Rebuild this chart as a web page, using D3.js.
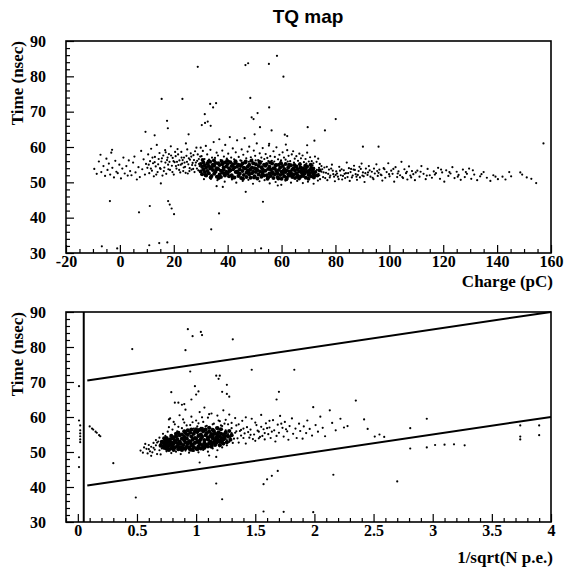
<!DOCTYPE html>
<html>
<head>
<meta charset="utf-8">
<script src="https://cdn.jsdelivr.net/npm/d3@7"></script>
<style>
  body { margin: 0; background: #fff; }
  svg { display: block; }
  .tick text { font-family: "Liberation Serif", "Times New Roman", serif; font-weight: bold; font-size: 16px; fill: #000; }
  .tick line { stroke: #000; stroke-width: 1.2; }
  .axis-title { font-family: "Liberation Serif", "Times New Roman", serif; font-weight: bold; font-size: 17px; }
  .title { font-family: "Liberation Sans", Arial, sans-serif; font-weight: bold; font-size: 19px; }
</style>
</head>
<body>
<div id="chart"></div>
<script>
const width = 565, height = 571

// tick labels
const chargeTicks = [-20, 0, 20, 40, 60, 80, 100, 120, 140, 160]
const timeTicks = [30, 40, 50, 60, 70, 80, 90]
const npeTicks = [0, 0.5, 1, 1.5, 2, 2.5, 3, 3.5, 4]

// ---- top panel: Time (nsec) vs Charge (pC) ----
const topLowCharge = [[-9.5,53.8],[-8.6,52.4],[-7.8,55.9],[-7.2,57.8],[-6.9,52.9],[-6.1,54.6],[-5.5,51.8],[-5.0,56.7],[-4.6,53.5],[-4.1,55.3],[-3.6,52.2],[-3.2,58.4],[-2.9,59.2],[-2.8,54.1],[-2.2,51.4],[-1.7,56.1],[-1.3,53.0],[-0.8,52.6],[-0.2,55.0],[0.4,51.1],[0.9,53.9],[1.3,57.0],[1.8,52.5],[2.4,54.6],[2.9,51.9],[3.3,56.2],[3.8,53.2],[4.3,52.0],[4.9,55.6],[5.4,57.3],[5.8,52.8],[6.3,50.8],[6.9,54.3],[7.4,51.5],[7.9,58.9],[8.3,53.7],[8.8,56.5],[9.3,52.2],[9.7,55.2]]

const topRising = [[10.2,54.1],[10.5,57.9],[10.9,52.6],[11.2,56.0],[11.6,59.5],[11.9,53.3],[12.3,55.4],[12.6,51.7],[13.0,57.2],[13.3,54.5],[13.7,60.6],[14.0,52.9],[14.4,56.6],[14.7,58.3],[15.1,53.8],[15.4,55.9],[15.8,51.9],[16.1,57.6],[16.5,54.2],[16.8,59.1],[17.2,52.4],[17.5,56.3],[17.9,55.0],[18.2,58.0],[18.6,53.5],[18.9,60.2],[19.3,54.7],[19.6,56.9],[20.0,52.2],[20.3,55.7],[20.7,57.4],[21.0,53.9],[21.4,59.4],[21.7,54.9],[22.1,56.2],[22.4,52.8],[22.8,58.6],[23.1,55.3],[23.5,53.2],[23.8,57.0],[24.2,54.4],[24.5,61.0],[24.9,55.8],[25.2,52.5],[25.6,56.8],[25.9,54.0],[26.3,58.2],[26.6,53.6],[27.0,55.5],[27.3,57.7],[27.7,52.9],[28.0,54.8],[28.4,59.8],[28.7,56.1],[29.1,53.4],[29.4,55.2],[29.8,57.3],[14.2,55.1],[15.6,56.8],[16.9,55.6],[17.7,57.0],[18.4,55.8],[19.0,57.6],[19.9,56.0],[20.8,54.6],[21.6,57.9],[22.6,55.0],[23.3,56.3],[24.0,55.6],[24.7,57.5],[25.4,55.1],[26.0,56.4],[26.8,54.9],[27.5,56.3],[28.2,55.6],[28.9,57.9],[29.6,54.6],[10.7,55.0],[11.5,53.9],[12.1,57.0],[12.9,55.7],[13.5,52.2],[14.9,54.0],[16.3,53.2],[17.0,58.5],[18.0,53.7],[19.5,52.9],[20.5,58.6],[21.2,55.8],[22.0,53.5],[22.9,57.0],[23.7,54.2],[24.4,52.7],[25.0,59.3],[25.8,53.2],[26.5,57.3],[27.2,53.8],[27.9,58.8],[28.6,53.9],[29.3,56.6],[30.0,59.8]]

const topCore = [[30,53.1],[30,55.2],[30.5,54.4],[30.5,52.3],[31,55.6],[31,53.7],[31.5,52.9],[31.5,54.8],[32,54.1],[32,51.9],[32.5,55.3],[32.5,53.2],[33,52.6],[33,54.6],[33.5,53.9],[33.5,55.8],[34,51.8],[34,54.3],[34.5,53.5],[34.5,55.0],[35,52.4],[35,54.7],[35.5,55.5],[35.5,53.0],[36,51.6],[36,54.0],[36.5,53.8],[36.5,55.4],[37,52.2],[37,54.9],[37.5,53.3],[37.5,51.5],[38,55.1],[38,52.8],[38.5,54.2],[38.5,53.6],[39,51.9],[39,55.6],[39.5,53.0],[39.5,54.5],[40,52.5],[40,55.2],[40.5,54.0],[40.5,51.7],[41,53.4],[41,55.7],[41.5,52.0],[41.5,54.6],[42,53.7],[42,55.1],[42.5,51.4],[42.5,54.2],[43,52.9],[43,55.5],[43.5,54.4],[43.5,53.1],[44,51.8],[44,55.0],[44.5,53.6],[44.5,52.4],[45,54.8],[45,51.2],[45.5,53.2],[45.5,55.3],[46,52.1],[46,54.1],[46.5,53.9],[46.5,55.6],[47,51.5],[47,52.7],[47.5,54.5],[47.5,53.4],[48,52.3],[48,55.0],[48.5,53.7],[48.5,51.3],[49,54.2],[49,52.6],[49.5,55.4],[49.5,53.0],[50,51.7],[50,54.0],[50.5,52.9],[50.5,55.1],[51,53.5],[51,51.1],[51.5,54.6],[51.5,52.2],[52,53.1],[52,55.5],[52.5,51.6],[52.5,54.3],[53,52.8],[53,53.7],[53.5,55.0],[53.5,51.9],[54,53.3],[54,54.7],[54.5,52.0],[54.5,55.2],[55,53.8],[55,51.4],[55.5,54.4],[55.5,52.5],[56,51.8],[56,53.6],[56.5,55.3],[56.5,52.9],[57,54.0],[57,51.2],[57.5,52.3],[57.5,53.9],[58,54.9],[58,53.2],[58.5,51.5],[58.5,52.6],[59,53.5],[59,55.0],[59.5,52.1],[59.5,54.2],[60,53.0],[60,51.0],[60.5,54.6],[60.5,52.4],[61,51.7],[61,53.8],[61.5,52.9],[61.5,55.2],[62,53.4],[62,51.3],[62.5,54.3],[62.5,52.2],[63,51.9],[63,53.1],[63.5,52.7],[63.5,54.8],[64,53.6],[64,51.5],[64.5,52.2],[64.5,54.0],[65,51.2],[65,53.3],[65.5,54.5],[65.5,52.5],[66,52.0],[66,53.7],[66.5,53.1],[66.5,51.1],[67,51.6],[67,54.2],[67.5,52.8],[67.5,53.4],[68,54.0],[68,51.8],[68.5,52.4],[68.5,53.0],[69,51.3],[69,53.8],[69.5,52.9],[69.5,54.5],[70,52.1],[70,51.0],[70.5,53.5],[70.5,52.6],[71,51.7],[71,54.1],[71.5,52.9],[71.5,53.3],[72,51.4],[72,52.3],[30.7,56.3],[31.8,52.1],[32.9,55.9],[33.7,51.4],[34.9,56.2],[35.8,53.7],[36.7,51.2],[37.8,56.0],[38.7,52.5],[39.8,56.1],[40.7,53.2],[41.8,51.3],[42.9,56.0],[43.8,52.7],[44.8,54.6],[45.7,51.0],[46.7,55.9],[47.8,53.1],[48.8,56.1],[49.8,51.4],[50.7,53.8],[51.8,55.8],[52.8,52.1],[53.8,54.9],[54.8,51.0],[55.8,55.6],[56.8,52.4],[57.8,54.8],[58.8,51.1],[59.8,55.4],[60.8,53.3],[61.8,50.9],[62.8,55.0],[63.8,52.0],[64.8,54.9],[65.8,51.6],[66.8,55.1],[67.8,52.3],[68.8,54.7],[69.8,53.1],[70.8,55.0],[71.8,53.9],[72.5,52.9],[73.3,51.9],[74.1,53.4]]

const topHalo = [[30.3,57.4],[30.8,58.9],[31.4,56.6],[31.9,60.3],[32.4,57.9],[33.1,56.4],[33.6,59.2],[34.2,57.0],[34.8,61.4],[35.3,56.9],[35.9,58.4],[36.4,57.6],[36.9,62.2],[37.4,56.3],[38.0,59.0],[38.6,57.3],[39.1,60.6],[39.7,56.7],[40.2,58.1],[40.8,62.8],[41.3,57.0],[41.9,59.6],[42.4,56.5],[43.0,58.5],[43.5,61.9],[44.1,57.2],[44.7,56.2],[45.2,59.3],[45.8,57.8],[46.3,62.5],[46.9,56.8],[47.4,58.7],[48.0,60.1],[48.6,57.1],[49.1,56.4],[49.7,59.0],[50.2,57.5],[50.8,61.0],[51.3,56.3],[51.9,58.2],[52.5,57.0],[53.0,59.7],[53.6,56.6],[54.1,58.0],[54.7,56.9],[55.3,60.4],[55.8,57.4],[56.4,56.1],[57.0,58.8],[57.5,57.2],[58.1,59.9],[58.7,56.5],[59.2,57.8],[59.8,56.2],[60.4,58.5],[60.9,57.0],[61.5,56.4],[62.1,59.1],[62.6,57.5],[63.2,56.0],[63.8,57.9],[64.3,58.8],[64.9,56.7],[65.5,57.4],[66.1,56.1],[66.6,58.1],[67.2,56.8],[67.8,57.6],[68.3,55.7],[68.9,56.6],[69.5,58.4],[70.1,55.9],[70.6,57.1],[71.2,56.0],[71.8,55.4],[72.4,57.3],[73.0,55.8],[73.6,56.7],[74.2,55.2],[74.8,54.6],[31.2,50.9],[33.8,51.0],[36.2,50.6],[38.9,50.2],[41.6,50.8],[43.2,49.9],[45.6,50.4],[47.7,50.7],[49.4,49.6],[51.8,50.3],[53.7,50.6],[55.6,49.7],[57.8,50.1],[59.9,49.3],[61.4,50.5],[63.5,49.9],[65.8,50.4],[67.9,49.8],[69.8,50.2],[71.9,49.6],[73.5,50.5],[32.7,55.9],[35.1,56.2],[37.9,55.8],[40.5,56.0],[42.7,55.9],[45.1,56.1],[47.9,55.8],[50.4,56.2],[52.7,55.9],[55.1,56.0],[57.3,55.9],[59.6,55.7],[62.3,55.9],[64.6,55.6],[66.9,55.4],[69.2,55.3],[71.5,54.8],[73.9,54.1]]

const topHighCharge = [[72.6,51.8],[73.1,53.5],[73.7,52.4],[74.3,50.9],[74.8,53.0],[75.4,51.5],[75.9,54.2],[76.5,52.7],[77.0,50.6],[77.6,53.6],[78.1,51.9],[78.7,55.0],[79.2,52.3],[79.8,50.3],[80.3,53.1],[80.9,51.6],[81.4,54.4],[82.0,52.0],[82.5,50.8],[83.1,53.4],[83.6,51.2],[84.2,55.6],[84.7,52.6],[85.3,50.4],[85.8,53.8],[86.4,51.9],[86.9,54.7],[87.5,52.3],[88.0,50.7],[88.6,53.2],[89.1,51.4],[89.7,55.3],[90.2,52.8],[90.8,50.1],[91.3,53.9],[91.9,52.1],[92.4,54.6],[93.0,51.6],[93.5,53.0],[94.1,50.9],[94.6,52.5],[95.2,55.1],[95.7,51.8],[96.3,53.6],[96.8,52.2],[97.4,50.5],[97.9,54.0],[98.5,51.3],[99.0,52.9],[99.6,55.4],[100.1,51.7],[100.7,53.3],[101.2,52.4],[101.8,50.2],[102.3,54.3],[102.9,51.5],[103.4,53.1],[104.0,52.0],[104.5,55.8],[105.1,51.2],[105.6,53.7],[106.2,52.6],[106.7,50.8],[107.3,54.5],[107.8,51.9],[108.4,53.2],[108.9,52.3],[109.5,50.6],[72.9,52.9],[74.0,52.0],[75.1,53.7],[76.2,51.2],[77.3,52.4],[78.4,53.9],[79.5,51.6],[80.6,52.5],[81.7,53.3],[82.8,51.8],[83.9,52.6],[85.0,54.0],[86.1,51.4],[87.2,53.5],[88.3,52.1],[89.4,53.8],[90.5,51.7],[92.1,52.8],[94.3,53.9],[96.0,52.7],[75.6,52.8],[76.8,54.4],[77.9,51.4],[79.0,53.3],[80.1,52.1],[81.2,50.9],[82.3,53.7],[83.4,52.4],[84.5,51.5],[85.6,52.9],[86.7,53.6],[87.8,51.6],[88.9,54.4],[90.0,51.9],[91.1,52.6],[92.7,53.4],[93.8,51.3],[95.5,53.2],[97.1,52.0],[98.2,53.7],[99.9,52.3],[101.5,53.8],[103.1,52.5],[104.8,51.5],[106.5,53.0],[108.1,51.4],[109.8,52.8],[110.4,53.3],[111.2,51.6],[111.6,53.0],[111.9,54.6],[112.7,52.4],[113.5,50.9],[113.9,51.9],[114.2,53.8],[115.0,52.0],[115.8,51.3],[116.5,53.1],[116.9,52.2],[117.3,52.6],[118.1,54.1],[118.8,51.0],[119.2,53.6],[119.6,52.8],[120.4,50.2],[121.1,53.4],[121.9,51.8],[122.3,52.9],[122.7,52.5],[123.4,54.3],[124.2,51.2],[125.0,53.0],[125.4,51.6],[125.7,52.1],[126.5,50.7],[127.3,53.6],[128.0,51.5],[128.4,52.9],[128.8,52.4],[129.6,53.9],[130.4,51.0],[131.0,53.4],[131.5,52.2],[132.6,50.6],[133.7,51.7],[134.2,52.3],[135.0,52.9],[136.2,51.3],[137.5,50.4],[138.6,52.0],[139.4,51.6],[140.3,50.9],[142.0,51.6],[143.1,50.8],[144.5,52.9],[145.2,51.7],[148.6,52.8],[149.3,52.2],[151.0,51.4],[152.7,51.0],[154.5,49.8]]

const topOutliers = [[58.3,85.8],[55.3,83.5],[47.6,83.7],[46.6,83.2],[28.9,82.7],[60.7,79.9],[15.5,73.6],[23.2,73.6],[48.4,73.9],[33.5,72.2],[35.7,72.4],[34.6,71.2],[55.4,71.2],[31.5,69.3],[48.9,68.4],[49.6,67.9],[51.1,69.6],[30.4,66.2],[31.6,66.8],[32.6,67.2],[33.7,66.0],[17.5,67.4],[17.8,65.3],[80.1,67.9],[69.7,65.6],[52.0,65.6],[56.3,64.7],[76.1,64.7],[50.0,63.6],[61.2,63.5],[62.1,63.1],[9.5,64.3],[25.5,63.6],[12.9,63.3],[90.2,60.1],[96.0,60.1],[157.2,61.0],[55.4,60.9],[61.6,60.7],[69.5,60.5],[72.2,61.8],[-3.7,44.7],[7.1,41.5],[11.1,43.3],[17.9,44.7],[18.5,43.7],[19.2,42.6],[20.1,41.0],[36.8,41.2],[33.9,36.7],[53.1,44.5],[46.7,47.3],[35.9,48.9],[38.2,48.7],[58.6,49.1],[15.2,49.7],[-6.7,31.9],[-1.0,31.3],[10.9,32.2],[14.6,32.8],[17.6,33.0],[52.4,31.3]]

// ---- bottom panel: Time (nsec) vs 1/sqrt(N p.e.) ----
const bottomCore = [[0.72,51.6],[0.72,52.8],[0.73,52.3],[0.73,51.2],[0.74,53.1],[0.74,51.9],[0.75,52.5],[0.75,50.9],[0.76,51.4],[0.76,53.4],[0.77,52.9],[0.77,51.8],[0.78,53.6],[0.78,52.2],[0.79,51.1],[0.79,52.7],[0.80,53.9],[0.80,51.7],[0.81,52.4],[0.81,54.2],[0.82,51.3],[0.82,53.2],[0.83,52.8],[0.83,54.5],[0.84,51.6],[0.84,53.7],[0.85,52.2],[0.85,50.8],[0.86,54.8],[0.86,53.0],[0.87,51.4],[0.87,52.5],[0.88,53.8],[0.88,55.0],[0.89,52.0],[0.89,51.1],[0.90,54.3],[0.90,53.3],[0.91,52.7],[0.91,55.4],[0.92,51.5],[0.92,53.9],[0.93,54.9],[0.93,52.3],[0.94,53.1],[0.94,51.2],[0.95,55.5],[0.95,52.8],[0.96,51.8],[0.96,54.4],[0.97,53.5],[0.97,52.1],[0.98,55.2],[0.98,51.4],[0.99,52.6],[0.99,54.0],[1.00,53.8],[1.00,51.0],[1.01,55.7],[1.01,52.9],[1.02,51.6],[1.02,54.6],[1.03,53.2],[1.03,52.4],[1.04,55.0],[1.04,53.7],[1.05,52.0],[1.05,54.3],[1.06,55.9],[1.06,51.3],[1.07,53.4],[1.07,52.6],[1.08,54.8],[1.08,52.1],[1.09,51.9],[1.09,55.4],[1.10,53.6],[1.10,54.1],[1.11,52.5],[1.11,55.8],[1.12,54.5],[1.12,53.0],[1.13,52.2],[1.13,55.1],[1.14,53.9],[1.14,54.7],[1.15,52.8],[1.15,56.0],[1.16,55.3],[1.16,53.4],[1.17,52.6],[1.17,54.2],[1.18,54.9],[1.18,53.7],[1.19,53.1],[1.19,55.6],[1.20,54.4],[1.20,52.9],[1.21,53.5],[1.21,55.2],[1.22,54.0],[1.22,52.7],[1.23,55.0],[1.23,53.6],[1.24,53.9],[1.24,54.6],[0.70,51.8],[0.71,52.9],[0.73,53.9],[0.75,54.0],[0.77,50.6],[0.79,54.6],[0.81,50.6],[0.83,55.2],[0.85,55.5],[0.86,51.0],[0.88,50.6],[0.90,55.9],[0.91,51.0],[0.93,56.2],[0.95,50.7],[0.96,56.4],[0.97,50.6],[0.99,55.9],[1.00,56.5],[1.01,50.8],[1.03,56.3],[1.04,51.0],[1.05,56.6],[1.07,51.2],[1.08,56.4],[1.10,51.6],[1.11,56.9],[1.13,51.5],[1.14,56.3],[1.16,52.0],[1.18,56.8],[1.20,51.9],[1.21,56.5],[1.23,52.4],[1.25,55.6],[1.26,52.8],[1.27,54.4],[1.28,56.0],[1.29,53.5],[1.30,54.8]]

const bottomHalo = [[0.53,50.4],[0.55,49.8],[0.56,51.3],[0.58,50.9],[0.59,49.6],[0.60,52.0],[0.61,50.2],[0.62,51.5],[0.63,49.9],[0.64,52.6],[0.65,50.7],[0.66,51.9],[0.67,49.4],[0.68,53.0],[0.69,50.5],[0.70,52.3],[0.71,51.0],[0.70,49.3],[0.66,53.4],[0.62,48.9],[0.74,54.6],[0.76,55.8],[0.78,59.6],[0.80,56.4],[0.82,57.9],[0.84,55.9],[0.86,60.5],[0.88,56.8],[0.90,58.4],[0.91,62.1],[0.93,56.2],[0.95,57.7],[0.96,60.1],[0.98,56.7],[1.00,59.0],[1.01,57.3],[1.03,61.4],[1.04,56.9],[1.06,58.6],[1.07,62.7],[1.09,57.5],[1.10,59.8],[1.12,56.8],[1.13,61.0],[1.15,58.1],[1.17,57.0],[1.18,60.4],[1.20,58.8],[1.22,57.4],[1.23,61.9],[1.25,59.2],[1.27,57.9],[1.28,60.7],[1.30,58.3],[0.75,50.2],[0.79,49.7],[0.83,50.1],[0.87,49.4],[0.91,50.4],[0.94,49.8],[0.98,50.3],[1.02,49.9],[1.06,50.6],[1.10,50.1],[1.14,51.0],[1.18,50.5],[1.22,51.3],[1.26,51.9],[0.57,52.3],[0.60,50.8],[0.64,51.2],[0.67,52.7],[0.69,54.1],[0.72,55.2],[0.77,57.1],[0.81,58.6],[0.85,57.2],[0.89,59.3],[0.92,57.6],[0.97,58.5],[1.02,58.2],[1.05,59.9],[1.08,57.3],[1.11,60.8],[1.14,57.9],[1.19,59.0],[1.21,57.6],[1.24,58.1]]

const bottomSpread = [[1.25,56.2],[1.26,53.4],[1.27,55.1],[1.29,54.3],[1.30,56.8],[1.31,52.6],[1.33,55.5],[1.34,57.6],[1.35,53.9],[1.37,56.0],[1.38,54.7],[1.39,58.9],[1.41,55.3],[1.42,52.4],[1.43,57.1],[1.45,54.1],[1.46,56.4],[1.47,59.5],[1.49,55.0],[1.50,53.2],[1.51,57.7],[1.53,55.8],[1.54,54.3],[1.55,60.6],[1.57,56.5],[1.58,53.6],[1.59,58.2],[1.61,55.1],[1.62,57.0],[1.63,54.0],[1.65,59.1],[1.66,56.2],[1.67,53.0],[1.69,57.8],[1.70,55.5],[1.71,60.3],[1.73,56.9],[1.74,54.4],[1.75,58.6],[1.77,55.9],[1.78,53.5],[1.79,57.4],[1.81,59.6],[1.82,55.2],[1.84,56.7],[1.85,54.0],[1.87,58.1],[1.88,56.0],[1.90,53.8],[1.91,57.3],[1.93,55.4],[1.94,59.0],[1.96,56.6],[1.98,54.7],[1.99,62.8],[2.01,57.7],[2.03,55.8],[2.05,60.1],[2.07,56.9],[2.09,54.5],[2.13,61.9],[2.15,58.3],[2.18,56.2],[2.22,59.5],[2.25,57.0],[2.28,57.4],[2.35,64.7],[2.42,59.3],[2.45,56.6],[2.51,54.4],[2.55,55.0],[2.59,54.3],[2.81,56.8],[2.95,59.5],[1.26,54.8],[1.28,52.9],[1.30,55.4],[1.32,53.8],[1.34,55.9],[1.36,52.7],[1.38,56.3],[1.40,54.0],[1.44,55.7],[1.48,53.7],[1.52,56.1],[1.56,54.6],[1.60,56.8],[1.33,59.7],[1.36,57.9],[1.40,56.7],[1.42,59.9],[1.46,54.9],[1.50,58.4],[1.53,53.9],[1.55,57.2],[1.58,55.4],[1.62,58.9],[1.64,55.8],[1.68,54.6],[1.72,58.1],[1.76,56.5],[2.81,51.0],[2.95,51.3],[3.02,52.0],[3.10,52.1],[3.18,52.2],[3.27,51.9],[3.74,57.6],[3.74,54.4],[3.74,53.6],[3.90,57.6],[3.90,54.8]]

const bottomOutliers = [[0.46,79.4],[0.93,85.1],[0.97,83.1],[1.04,84.3],[1.05,83.4],[0.91,79.1],[1.31,82.2],[1.47,73.5],[1.83,73.5],[0.95,73.0],[0.99,68.8],[1.02,67.3],[1.00,66.4],[1.17,71.8],[1.20,71.8],[1.19,70.9],[1.26,69.2],[1.22,67.2],[1.26,66.6],[1.28,65.8],[1.70,67.2],[1.68,65.0],[0.79,67.1],[0.85,64.1],[0.82,64.1],[0.90,63.7],[0.88,63.5],[0.96,65.0],[0.77,59.3],[0.30,46.8],[0.49,37.0],[1.17,41.0],[1.22,36.5],[1.57,40.8],[1.60,42.2],[1.64,43.2],[1.69,44.6],[1.57,33.0],[1.74,32.9],[1.99,32.8],[2.16,43.5],[2.70,41.6],[1.03,47.0],[1.17,48.6],[1.11,49.0]]

// hits left of the cut and the short streak next to it
const bottomEdge = [[0.01,68.8],[0.01,59.0],[0.02,57.6],[0.02,56.2],[0.02,55.3],[0.02,54.5],[0.02,53.6],[0.02,52.8],[0.01,48.5],[0.01,45.7],[0.10,57.3],[0.12,56.7],[0.13,56.4],[0.15,55.8],[0.16,55.5],[0.18,54.8],[0.19,54.5]]

// cut lines: T = 40 + 5x and T = 70 + 5x, and the vertical cut
const bandX = [0.08, 4]
const lowerBand = [40.4, 60]
const upperBand = [70.4, 90]
const cutX = 0.05

const svg = d3.select('#chart').append('svg')
    .attr('width', width)
    .attr('height', height)

svg.append('text')
    .attr('class', 'title')
    .attr('x', 308)
    .attr('y', 23)
    .attr('text-anchor', 'middle')
    .text('TQ map')

function drawPanel(p) {
    const x = d3.scaleLinear().domain(p.xDomain).range([66, 551])
    const y = d3.scaleLinear().domain([30, 90]).range([p.bottom, p.top])
    const g = svg.append('g')
    const noDomain = s => s.select('.domain').remove()

    // minor ticks
    g.append('g')
        .attr('transform', `translate(0,${p.bottom})`)
        .call(d3.axisBottom(x).tickValues(p.xMinor).tickSize(-4).tickFormat(''))
        .call(noDomain)
    g.append('g')
        .attr('transform', 'translate(66,0)')
        .call(d3.axisLeft(y).tickValues(d3.range(30, 91, 2).filter(v => v % 10)).tickSize(-4).tickFormat(''))
        .call(noDomain)

    // major ticks
    g.append('g')
        .attr('transform', `translate(0,${p.bottom})`)
        .call(d3.axisBottom(x).tickValues(p.xTicks).tickSize(-8).tickPadding(3).tickFormat(d => d))
        .call(noDomain)
    g.append('g')
        .attr('transform', 'translate(66,0)')
        .call(d3.axisLeft(y).tickValues(timeTicks).tickSize(-8).tickPadding(20).tickFormat(d => d))
        .call(noDomain)

    g.append('rect')
        .attr('x', 66).attr('y', p.top)
        .attr('width', 485).attr('height', p.bottom - p.top)
        .attr('fill', 'none').attr('stroke', '#000').attr('stroke-width', 1.6)

    g.append('text')
        .attr('class', 'axis-title')
        .attr('x', 553).attr('y', p.bottom + p.xTitleDy)
        .attr('text-anchor', 'end')
        .text(p.xTitle)

    g.append('text')
        .attr('class', 'axis-title')
        .attr('transform', `translate(23,${p.top}) rotate(-90)`)
        .attr('text-anchor', 'end')
        .text('Time (nsec)')

    return { g, x, y }
}

function plotPoints(panel, pts, r) {
    panel.g.append('g')
        .selectAll('circle')
        .data(pts)
        .join('circle')
        .attr('cx', d => panel.x(d[0]))
        .attr('cy', d => panel.y(d[1]))
        .attr('r', r)
        .attr('fill', '#000')
}

const topPanel = drawPanel({
    xDomain: [-20, 160], top: 41, bottom: 253,
    xTicks: chargeTicks,
    xMinor: d3.range(-20, 161, 5).filter(v => v % 20),
    xTitle: 'Charge (pC)', xTitleDy: 34,
})
plotPoints(topPanel, topLowCharge, 1.1)
plotPoints(topPanel, topRising, 1.1)
plotPoints(topPanel, topHalo, 1.1)
plotPoints(topPanel, topHighCharge, 1.1)
plotPoints(topPanel, topOutliers, 1.1)
plotPoints(topPanel, topCore, 2.0)

const bottomPanel = drawPanel({
    xDomain: [-0.1, 4], top: 312, bottom: 522,
    xTicks: npeTicks,
    xMinor: d3.range(-1, 41).map(v => v / 10).filter(v => Math.round(v * 10) % 5),
    xTitle: '1/sqrt(N p.e.)', xTitleDy: 41,
})

const line = d3.line().x(d => bottomPanel.x(d[0])).y(d => bottomPanel.y(d[1]))
for (const band of [lowerBand, upperBand]) {
    bottomPanel.g.append('path')
        .attr('d', line(bandX.map((v, i) => [v, band[i]])))
        .attr('fill', 'none').attr('stroke', '#000').attr('stroke-width', 2)
}
bottomPanel.g.append('line')
    .attr('x1', bottomPanel.x(cutX)).attr('x2', bottomPanel.x(cutX))
    .attr('y1', bottomPanel.y(30)).attr('y2', bottomPanel.y(90))
    .attr('stroke', '#000').attr('stroke-width', 2)

plotPoints(bottomPanel, bottomEdge, 1.1)
plotPoints(bottomPanel, bottomHalo, 1.1)
plotPoints(bottomPanel, bottomSpread, 1.1)
plotPoints(bottomPanel, bottomOutliers, 1.1)
plotPoints(bottomPanel, bottomCore, 2.1)
</script>
</body>
</html>
